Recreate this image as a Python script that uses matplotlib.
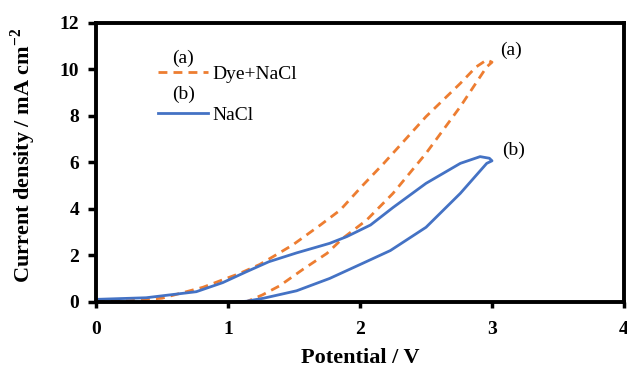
import matplotlib
matplotlib.use("Agg")
import matplotlib.pyplot as plt
from matplotlib.lines import Line2D

plt.rcParams['font.family'] = ['Liberation Serif', 'DejaVu Serif']
plt.rcParams['mathtext.fontset'] = 'custom'
plt.rcParams['mathtext.rm'] = 'Liberation Serif'
plt.rcParams['mathtext.bf'] = 'Liberation Serif:bold'

# Dye+NaCl cycle: anodic sweep then return
dye_v = [0.0, 0.25, 0.5, 0.81, 1.09, 1.24, 1.36, 1.49, 1.7, 1.85, 2.02, 2.18, 2.5, 2.76, 2.88, 2.96, 3.0,
         2.96, 2.76, 2.5, 2.25, 2.05, 1.87, 1.75, 1.57, 1.39, 1.26, 1.14, 1.0, 0.5, 0.0]
dye_i = [0.0, 0.04, 0.15, 0.62, 1.22, 1.6, 2.0, 2.44, 3.3, 3.94, 5.0, 5.95, 7.96, 9.39, 10.1, 10.4, 10.3,
         10.1, 8.39, 6.38, 4.66, 3.51, 2.73, 2.08, 1.4, 0.68, 0.29, 0.0, -0.05, -0.05, -0.05]

# NaCl cycle
nacl_v = [0.0, 0.38, 0.76, 0.96, 1.14, 1.31, 1.52, 1.77, 1.9, 2.08, 2.25, 2.5, 2.76, 2.91, 2.98, 3.0,
          2.96, 2.76, 2.5, 2.23, 2.02, 1.77, 1.52, 1.27, 1.14, 1.0, 0.5, 0.0]
nacl_i = [0.1, 0.17, 0.43, 0.82, 1.29, 1.72, 2.1, 2.51, 2.8, 3.3, 4.05, 5.09, 5.95, 6.24, 6.17, 6.06,
          5.95, 4.66, 3.2, 2.2, 1.65, 1.0, 0.47, 0.15, 0.02, -0.03, -0.05, -0.05]

orange = '#ED7D31'
blue = '#4472C4'

fig = plt.figure(figsize=(6.27, 3.69), dpi=100)
ax = fig.add_axes([96/627, 1 - 301.7/369, 528/627, 279/369])

ax.plot(dye_v, dye_i, color=orange, lw=2.0, dashes=(3.2, 2.2), solid_capstyle='butt')
ax.plot(nacl_v, nacl_i, color=blue, lw=2.0)

ax.set_xlim(0, 4)
ax.set_ylim(0, 12)
ax.set_xticks([0, 1, 2, 3, 4])
ax.set_yticks([0, 2, 4, 6, 8, 10, 12])
for s in ax.spines.values():
    s.set_linewidth(2.8)
ax.tick_params(axis='y', direction='out', length=6, width=2.5, labelsize=14, pad=6)
ax.tick_params(axis='x', direction='out', length=4, width=2.5, labelsize=14, pad=10)
for lab in ax.get_xticklabels() + ax.get_yticklabels():
    lab.set_fontweight('bold')

ax.set_xlabel('Potential / V', fontsize=16, fontweight='bold', labelpad=7)
ax.set_ylabel(r'Current density / mA cm$^{\mathbf{-2}}$', fontsize=16, fontweight='bold')
ax.yaxis.set_label_coords(-0.11, 0.525)

handles = [Line2D([], [], color=orange, lw=2.0, dashes=(3.2, 2.2)),
           Line2D([], [], color=blue, lw=2.0)]
ax.legend(handles, ['Dye+NaCl', 'NaCl'], loc='upper left', bbox_to_anchor=(0.117, 0.848),
          frameon=False, fontsize=14, handlelength=2.6, handletextpad=0.2,
          labelspacing=1.2, borderpad=0, borderaxespad=0)
ax.text(0.165, 0.843, '(a)', transform=ax.transAxes, fontsize=14, ha='center', va='bottom')
ax.text(0.165, 0.712, '(b)', transform=ax.transAxes, fontsize=14, ha='center', va='bottom')

ax.text(3.06, 10.6, '(a)', fontsize=14)
ax.text(3.08, 6.3, '(b)', fontsize=14)

fig.savefig('out.png', dpi=100)
